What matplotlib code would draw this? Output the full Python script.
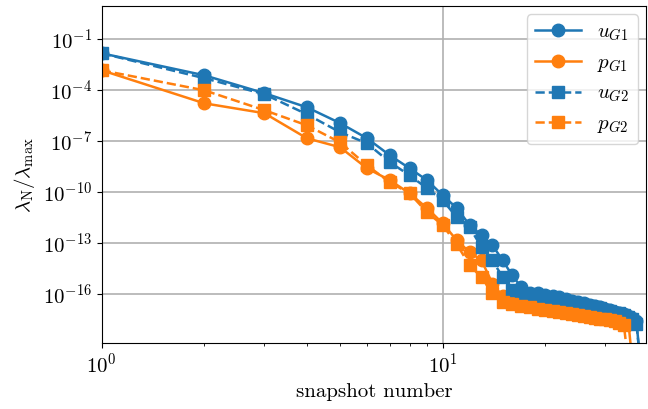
import matplotlib
matplotlib.use("Agg")
import matplotlib.pyplot as plt
from matplotlib.ticker import NullLocator

plt.rcParams.update({
    'font.family': 'serif',
    'font.serif': ['cmr10', 'DejaVu Serif'],
    'mathtext.fontset': 'cm',
    'axes.formatter.use_mathtext': True,
    'axes.unicode_minus': True,
    'font.size': 15,
})

# normalized eigenvalues per snapshot number
u_G1 = [1.4e-2, 7.1e-4, 6.3e-5, 9.3e-6, 1.1e-6, 1.4e-7, 1.4e-8, 2.4e-9, 4.8e-10, 6.3e-11,
        1.1e-11, 1.1e-12, 2.8e-13, 7.1e-14, 9.3e-15, 1.2e-15, 2.5e-16, 1.1e-16, 1.05e-16, 8.0e-17,
        7.1e-17, 6.3e-17, 5.0e-17, 4.0e-17, 3.2e-17, 2.8e-17, 2.2e-17, 2.0e-17, 1.6e-17, 1.26e-17,
        1.1e-17, 8.9e-18, 7.9e-18, 6.3e-18, 5.0e-18, 4.0e-18, 2.5e-18, 1e-20]
p_G1 = [1.4e-3, 1.6e-5, 4.2e-6, 1.4e-7, 4.2e-8, 2.4e-9, 4.8e-10, 8.1e-11, 1.1e-11, 1.4e-12,
        1.4e-13, 2.8e-14, 9.3e-15, 4.0e-16, 7.1e-17, 5.5e-17, 4.8e-17, 4.2e-17, 3.5e-17, 3.2e-17,
        2.8e-17, 2.4e-17, 2.1e-17, 1.9e-17, 1.6e-17, 1.4e-17, 1.26e-17, 1.1e-17, 9.5e-18, 8.1e-18,
        7.1e-18, 6.0e-18, 5.0e-18, 4.2e-18, 3.0e-18, 1e-20]
u_G2 = [1.4e-2, 4.8e-4, 5.5e-5, 3.6e-6, 3.2e-7, 7.1e-8, 5.5e-9, 9.3e-10, 1.6e-10, 3.2e-11,
        3.2e-12, 8.1e-13, 5.5e-14, 9.3e-15, 9.3e-16, 1.6e-16, 8.1e-17, 7.1e-17, 6.3e-17, 5.6e-17,
        5.0e-17, 4.5e-17, 4.0e-17, 3.2e-17, 2.5e-17, 2.2e-17, 2.0e-17, 1.6e-17, 1.4e-17, 1.1e-17,
        1.0e-17, 7.9e-18, 7.1e-18, 5.6e-18, 4.5e-18, 3.5e-18, 1.8e-18, 1e-20]
p_G2 = [1.4e-3, 9.3e-5, 6.3e-6, 8.1e-7, 8.1e-8, 3.6e-9, 3.6e-10, 8.1e-11, 6.2e-12, 1.1e-12,
        8.1e-14, 4.8e-15, 9.3e-16, 1.1e-16, 3.2e-17, 2.4e-17, 2.0e-17, 1.6e-17, 1.3e-17, 1.1e-17,
        1.0e-17, 8.9e-18, 7.9e-18, 6.6e-18, 5.5e-18, 5.0e-18, 4.5e-18, 4.0e-18, 3.5e-18, 3.2e-18,
        2.8e-18, 2.4e-18, 2.0e-18, 1.5e-18, 1e-20]

fig = plt.figure(figsize=(6.48, 4.09), dpi=100)
ax = fig.add_axes([0.157, 0.161, 0.84, 0.824])

ax.loglog(range(1, len(u_G1) + 1), u_G1, '-o', color='C0', ms=9, lw=1.8, label=r'$u_{G1}$')
ax.loglog(range(1, len(p_G1) + 1), p_G1, '-o', color='C1', ms=9, lw=1.8, label=r'$p_{G1}$')
ax.loglog(range(1, len(u_G2) + 1), u_G2, '--s', color='C0', ms=9, lw=1.8, label=r'$u_{G2}$')
ax.loglog(range(1, len(p_G2) + 1), p_G2, '--s', color='C1', ms=9, lw=1.8, label=r'$p_{G2}$')

ax.set_xlim(1, 39.5)
ax.set_ylim(10**-18.9, 10**0.92)
ax.set_yticks([1e-1, 1e-4, 1e-7, 1e-10, 1e-13, 1e-16])
ax.yaxis.set_minor_locator(NullLocator())
ax.grid(True, which='major', color='#b0b0b0', lw=1.2)

ax.set_xlabel('snapshot number')
ax.set_ylabel(r'$\lambda_{\rm N}/\lambda_{\rm max}$')
ax.legend(loc='upper right', fontsize=15, handlelength=2.2, borderaxespad=0.4)

plt.savefig('out.png', dpi=100)
